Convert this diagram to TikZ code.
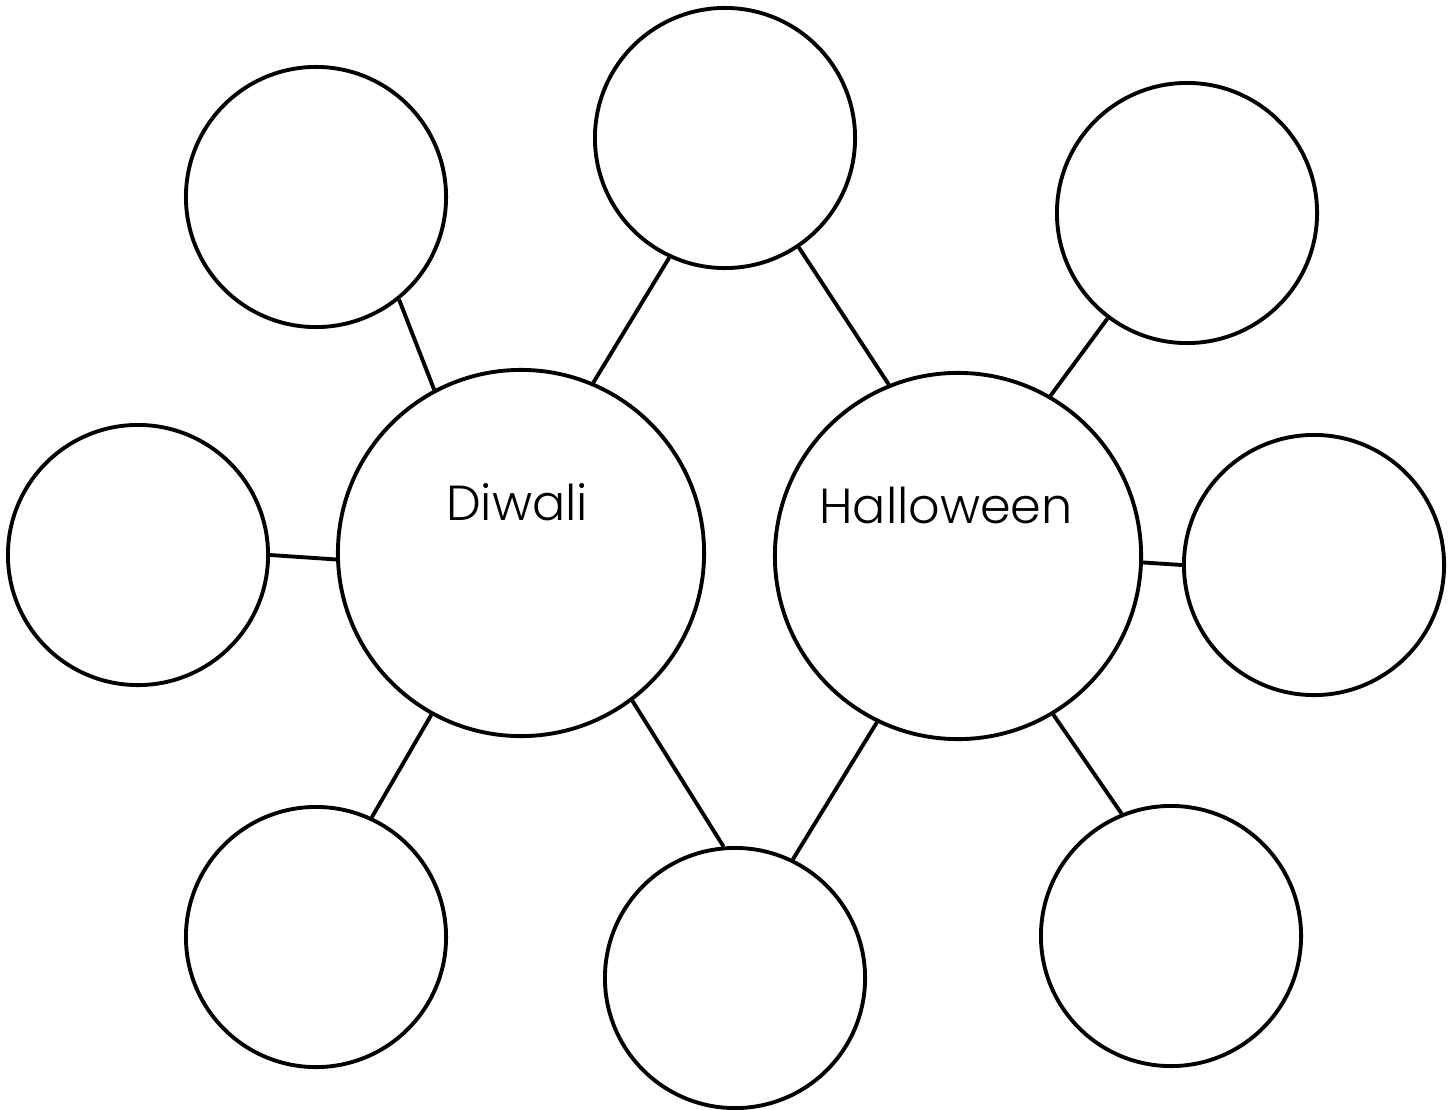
\documentclass[tikz,border=0pt]{standalone}
\usepackage{fontspec}
\setmainfont{Poppins}[UprightFont={* Light}]
\usetikzlibrary{positioning}
\tikzset{
  bubble/.style={draw, circle, line width=1.1pt, minimum size=2.6cm, inner sep=0pt},
  mainbubble/.style={bubble, minimum size=3.66cm},
  link/.style={line width=1.1pt},
  bubbletext/.style={font=\fontsize{14}{16}\selectfont}
}
\begin{document}
\begin{tikzpicture}[x=0.01cm, y=-0.01cm]
    \useasboundingbox (0,0) rectangle (1455,1109);
    % the two main topics
    \node[mainbubble] (diwali) at (521,553) {};
    \node[mainbubble] (halloween) at (958,556) {};
    \node[bubbletext] at (517,502) {Diwali};
    \node[bubbletext] at (946,505) {Halloween};
    % attribute bubbles
    \node[bubble] (tl) at (316,197) {};
    \node[bubble] (tc) at (725,138) {};
    \node[bubble] (tr) at (1187,213) {};
    \node[bubble] (ml) at (138,555) {};
    \node[bubble] (mr) at (1314,565) {};
    \node[bubble] (bl) at (316,937) {};
    \node[bubble] (bc) at (735,978) {};
    \node[bubble] (br) at (1171,936) {};
    % connectors (main.angle / bubble.angle)
    \foreach \n/\a/\b in {tl/118.4/-51.5, tc/67.7/-115, ml/182.2/-0.9,
                           bl/-119.5/65.1, bc/-53.7/95.6}
      \draw[link] (diwali.\a) -- (\n.\b);
    \foreach \n/\a/\b in {tc/112.2/-56.9, tr/60.9/-127.1, mr/-2.8/180.9,
                           bc/-116.3/64.6, br/-59/112.5}
      \draw[link] (halloween.\a) -- (\n.\b);
\end{tikzpicture}
\end{document}
